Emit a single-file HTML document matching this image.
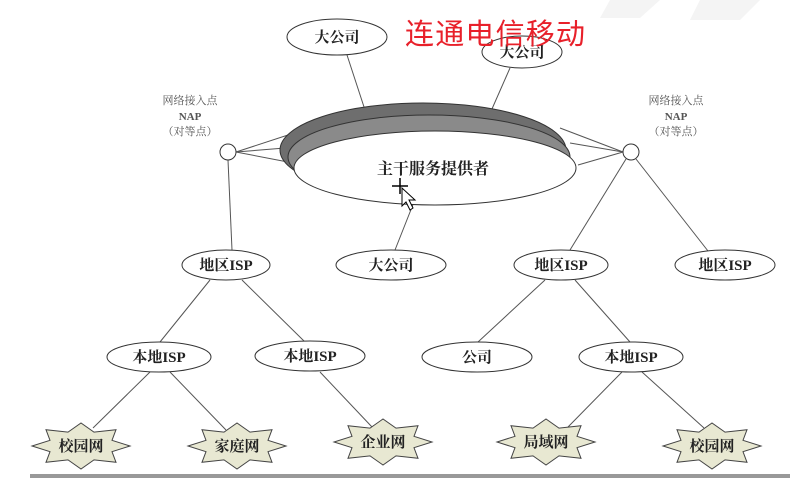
<!DOCTYPE html>
<html><head><meta charset="utf-8"><style>
html,body{margin:0;padding:0;background:#fff;}
svg{display:block;}
text{font-family:"Liberation Serif","Noto Serif CJK SC",serif;fill:#222;font-weight:bold;}
</style></head><body>
<svg width="790" height="480" viewBox="0 0 790 480" xmlns="http://www.w3.org/2000/svg">
<rect width="790" height="480" fill="#fff"/>
<polygon points="610,0 660,0 640,18 600,18" fill="#f4f4f4"/>
<polygon points="700,0 760,0 740,20 690,20" fill="#f4f4f4"/>
<g stroke="#555" stroke-width="1" fill="none">
<line x1="347" y1="55" x2="365" y2="110"/>
<line x1="510" y1="68" x2="488" y2="118"/>
<line x1="228" y1="160" x2="232" y2="250"/>
<line x1="236" y1="152" x2="288" y2="135"/>
<line x1="236" y1="152" x2="285" y2="148"/>
<line x1="236" y1="152" x2="293" y2="163"/>
<line x1="623" y1="152" x2="560" y2="128"/>
<line x1="623" y1="152" x2="570" y2="143"/>
<line x1="623" y1="152" x2="578" y2="165"/>
<line x1="626" y1="159" x2="570" y2="250"/>
<line x1="636" y1="159" x2="708" y2="251"/>
<line x1="414" y1="202" x2="395" y2="250"/>
<line x1="210" y1="280" x2="160" y2="342"/>
<line x1="242" y1="280" x2="305" y2="342"/>
<line x1="545" y1="280" x2="478" y2="342"/>
<line x1="575" y1="280" x2="630" y2="342"/>
<line x1="150" y1="372" x2="93" y2="428"/>
<line x1="170" y1="372" x2="226" y2="430"/>
<line x1="320" y1="372" x2="372" y2="427"/>
<line x1="622" y1="372" x2="568" y2="427"/>
<line x1="642" y1="372" x2="704" y2="428"/>
</g>
<ellipse cx="423" cy="150" rx="143" ry="47" fill="#6e6e6e" stroke="#333"/>
<ellipse cx="429" cy="157" rx="141" ry="42" fill="#8a8a8a" stroke="#333"/>
<ellipse cx="435" cy="168" rx="141" ry="37" fill="#fff" stroke="#333"/>
<text x="433" y="174" font-size="16" text-anchor="middle">主干服务提供者</text>
<g stroke="#000" stroke-width="1.5"><line x1="392" y1="186" x2="408" y2="186"/><line x1="400" y1="178" x2="400" y2="194"/></g>
<polygon points="402,188 402,206 406,202 410,210 413,208 409,200 415,200" fill="#fff" stroke="#000"/>
<g fill="#fff" stroke="#333">
<ellipse cx="337" cy="37" rx="50" ry="18"/>
<ellipse cx="522" cy="52" rx="40" ry="16"/>
<circle cx="228" cy="152" r="8"/>
<circle cx="631" cy="152" r="8"/>
<ellipse cx="226" cy="265" rx="44" ry="15"/>
<ellipse cx="391" cy="265" rx="55" ry="15"/>
<ellipse cx="561" cy="265" rx="47" ry="15"/>
<ellipse cx="725" cy="265" rx="50" ry="15"/>
<ellipse cx="159" cy="357" rx="52" ry="15"/>
<ellipse cx="310" cy="356" rx="55" ry="15"/>
<ellipse cx="477" cy="357" rx="55" ry="15"/>
<ellipse cx="631" cy="357" rx="52" ry="15"/>
</g>
<g font-size="15" text-anchor="middle">
<text x="337" y="42">大公司</text>
<text x="522" y="57">大公司</text>
<text x="226" y="270">地区ISP</text>
<text x="391" y="270">大公司</text>
<text x="561" y="270">地区ISP</text>
<text x="725" y="270">地区ISP</text>
<text x="159" y="362">本地ISP</text>
<text x="310" y="361">本地ISP</text>
<text x="477" y="362">公司</text>
<text x="631" y="362">本地ISP</text>
</g>
<g font-size="11" text-anchor="middle">
<text x="190" y="104" style="font-weight:normal;fill:#555">网络接入点</text>
<text x="190" y="120" style="fill:#555">NAP</text>
<text x="190" y="135" style="font-weight:normal;fill:#555">（对等点）</text>
<text x="676" y="104" style="font-weight:normal;fill:#555">网络接入点</text>
<text x="676" y="120" style="fill:#555">NAP</text>
<text x="676" y="135" style="font-weight:normal;fill:#555">（对等点）</text>
</g>
<text x="405" y="44" font-size="29" textLength="180" style="font-family:'Noto Sans CJK SC',sans-serif;font-weight:normal;fill:#e8202a">连通电信移动</text>
<defs>
<polygon id="st" points="49,0 31,5.7 35,16.3 13,13.9 0,23 -13,13.9 -35,16.3 -31,5.7 -49,0 -31,-5.7 -35,-16.3 -13,-13.9 0,-23 13,-13.9 35,-16.3 31,-5.7" fill="#e8e8d2" stroke="#444"/>
</defs>
<use href="#st" x="81" y="446"/>
<use href="#st" x="237" y="446"/>
<use href="#st" x="383" y="442"/>
<use href="#st" x="546" y="442"/>
<use href="#st" x="712" y="446"/>
<g font-size="15" text-anchor="middle" style="font-weight:normal">
<text x="81" y="451">校园网</text>
<text x="237" y="451">家庭网</text>
<text x="383" y="447">企业网</text>
<text x="546" y="447">局域网</text>
<text x="712" y="451">校园网</text>
</g>
<rect x="30" y="474" width="760" height="4" fill="#999"/>
</svg>
</body></html>
